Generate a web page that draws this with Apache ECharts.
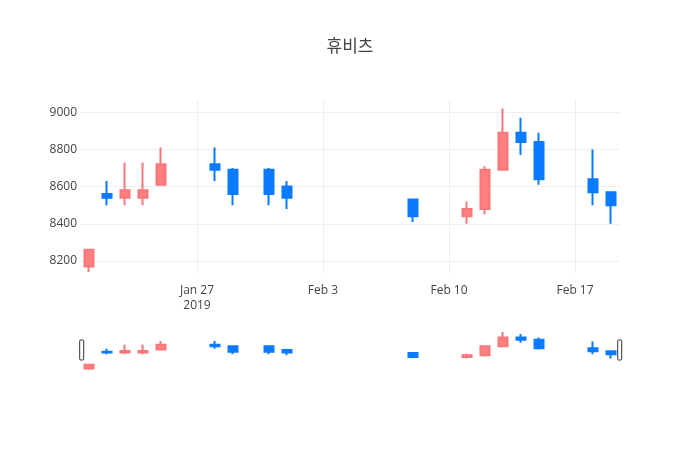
<!DOCTYPE html>
<html>
<head>
<meta charset="utf-8">
<script src="https://cdn.jsdelivr.net/npm/echarts@6/dist/echarts.min.js"></script>
<style>
  html, body { margin: 0; padding: 0; background: #fff; }
  #chart { width: 700px; height: 450px; }
</style>
</head>
<body>
<div id="chart"></div>
<script>
// 일봉 데이터
var dates = ['2019-01-21', '2019-01-22', '2019-01-23', '2019-01-24', '2019-01-25',
             '2019-01-28', '2019-01-29', '2019-01-31', '2019-02-01', '2019-02-08',
             '2019-02-11', '2019-02-12', '2019-02-13', '2019-02-14', '2019-02-15',
             '2019-02-18', '2019-02-19'];
var openPrice  = [8170, 8560, 8540, 8540, 8610, 8720, 8690, 8690, 8600, 8530, 8440, 8480, 8690, 8890, 8840, 8640, 8570];
var closePrice = [8260, 8540, 8580, 8580, 8720, 8690, 8560, 8560, 8540, 8440, 8480, 8690, 8890, 8840, 8640, 8570, 8500];
var lowPrice   = [8140, 8500, 8500, 8500, 8610, 8630, 8500, 8500, 8480, 8410, 8400, 8450, 8690, 8770, 8610, 8500, 8400];
var highPrice  = [8260, 8630, 8730, 8730, 8810, 8810, 8700, 8700, 8630, 8530, 8520, 8710, 9020, 8970, 8890, 8800, 8570];

var xTickDates  = ['2019-01-27', '2019-02-03', '2019-02-10', '2019-02-17'];
var xTickLabels = ['Jan 27\n2019', 'Feb 3', 'Feb 10', 'Feb 17'];
var yTicks = [8200, 8400, 8600, 8800, 9000];
var yMin = 8135, yMax = 9066;

function dayNum(s) { return Date.parse(s) / 864e5; }

var candleData = [];
for (var i = 0; i < dates.length; i++) {
    candleData.push([dayNum(dates[i]), openPrice[i], closePrice[i], lowPrice[i], highPrice[i]]);
}
var xTicks = xTickDates.map(dayNum);
var xMin = dayNum(dates[0]) - 0.5;
var xMax = dayNum(dates[dates.length - 1]) + 0.5;

var candleStyle = {
    color: '#ff7f7f',
    color0: '#0a7bff',
    borderColor: '#f7787c',
    borderColor0: '#0a7bff',
    borderWidth: 2
};

var myChart = echarts.init(document.getElementById('chart'));
var option = {
    animation: false,
    backgroundColor: '#fff',
    title: {
        text: '휴비츠',
        left: 'center',
        top: 32,
        textStyle: { fontFamily: 'Noto Sans CJK KR', fontSize: 17, fontWeight: 'normal', color: '#444' }
    },
    grid: [
        { left: 80, right: 80, top: 100, height: 173 },
        { left: 80, right: 80, top: 330, height: 40 }
    ],
    xAxis: [
        {
            type: 'value', gridIndex: 0, min: xMin, max: xMax, scale: true,
            axisLine: { show: false },
            axisTick: { show: false, customValues: xTicks },
            splitLine: { show: true, lineStyle: { color: '#eee', width: 1 } },
            axisLabel: {
                customValues: xTicks,
                margin: 10,
                color: '#444', fontSize: 12, fontFamily: 'Open Sans', lineHeight: 15,
                formatter: function (v) {
                    var k = xTicks.indexOf(v);
                    return k >= 0 ? xTickLabels[k] : '';
                }
            }
        },
        { type: 'value', gridIndex: 1, min: xMin, max: xMax, scale: true, show: false }
    ],
    yAxis: [
        {
            type: 'value', gridIndex: 0, min: yMin, max: yMax, scale: true,
            axisLine: { show: false },
            axisTick: { show: false, customValues: yTicks },
            splitLine: { show: true, lineStyle: { color: '#eee', width: 1 } },
            axisLabel: {
                customValues: yTicks, margin: 3,
                color: '#444', fontSize: 12, fontFamily: 'Open Sans',
                formatter: function (v) { return String(v); }
            }
        },
        { type: 'value', gridIndex: 1, min: yMin, max: yMax, scale: true, show: false }
    ],
    dataZoom: [{
        type: 'slider', xAxisIndex: 1, filterMode: 'none', start: 0, end: 100,
        left: 80, right: 80, top: 330, height: 40,
        backgroundColor: 'rgba(0,0,0,0)', borderColor: 'rgba(0,0,0,0)', fillerColor: 'rgba(0,0,0,0)',
        showDataShadow: false, showDetail: false, brushSelect: false, moveHandleSize: 0,
        handleIcon: 'path://M1,0L3,0Q4,0,4,1L4,19Q4,20,3,20L1,20Q0,20,0,19L0,1Q0,0,1,0Z',
        handleSize: '50%',
        handleStyle: { color: '#fff', borderColor: '#333', borderWidth: 1 },
        dataBackground: { lineStyle: { opacity: 0 }, areaStyle: { opacity: 0 } },
        selectedDataBackground: { lineStyle: { opacity: 0 }, areaStyle: { opacity: 0 } }
    }],
    series: [
        {
            type: 'candlestick', xAxisIndex: 0, yAxisIndex: 0,
            data: candleData, barWidth: 9, itemStyle: candleStyle,
            encode: { x: 0, y: [1, 2, 3, 4] }
        },
        {
            type: 'candlestick', xAxisIndex: 1, yAxisIndex: 1,
            data: candleData, barWidth: 9, itemStyle: candleStyle,
            encode: { x: 0, y: [1, 2, 3, 4] }
        }
    ]
};
myChart.setOption(option);
</script>
</body>
</html>
